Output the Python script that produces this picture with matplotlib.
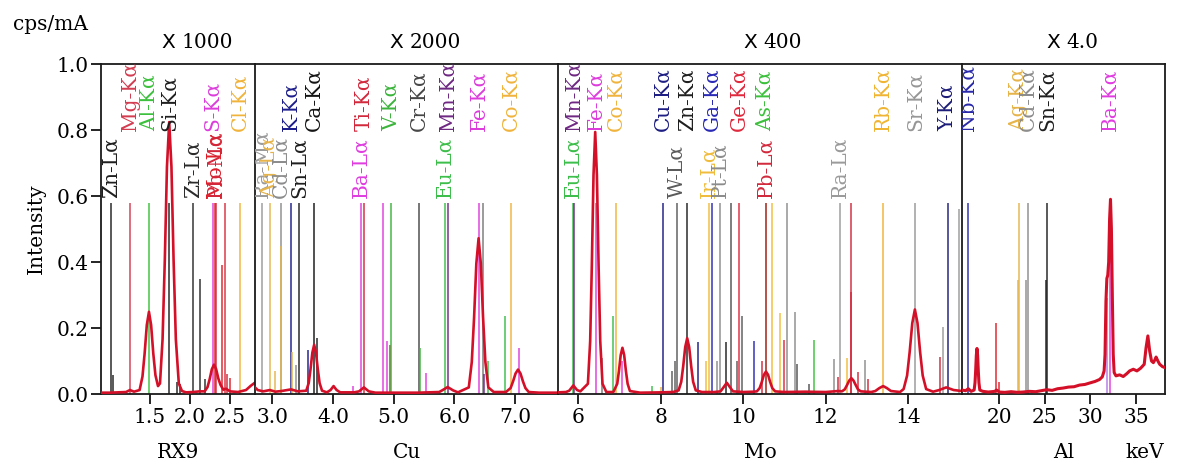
import matplotlib
matplotlib.use('Agg')
import matplotlib.pyplot as plt

plt.rcParams['font.family'] = ['DejaVu Serif', 'DejaVu Sans']

# ---------------- data ----------------
# spectrum (keV, cps/mA scaled) for each of the four filter panels
rx9_kev = [0.89, 1.00, 1.10, 1.20, 1.25, 1.30, 1.37, 1.406, 1.433, 1.460, 1.487, 1.514, 1.541, 1.568,
           1.60, 1.625, 1.657, 1.685, 1.712, 1.740, 1.768, 1.795, 1.823, 1.860, 1.90, 1.95, 2.04, 2.12,
           2.183, 2.219, 2.246, 2.273, 2.30, 2.327, 2.354, 2.381, 2.417, 2.45, 2.50, 2.60, 2.65, 2.70,
           2.76, 2.81]
rx9_int = [0.004, 0.004, 0.005, 0.006, 0.012, 0.007, 0.012, 0.053, 0.123, 0.209, 0.249, 0.209, 0.123, 0.057,
           0.024, 0.032, 0.166, 0.404, 0.689, 0.824, 0.689, 0.404, 0.166, 0.032, 0.009, 0.005, 0.006, 0.008,
           0.008, 0.021, 0.045, 0.075, 0.089, 0.075, 0.047, 0.028, 0.013, 0.016, 0.008, 0.006, 0.009, 0.012,
           0.025, 0.034]

cu_kev = [2.715, 2.76, 2.85, 2.96, 3.05, 3.15, 3.31, 3.42, 3.56, 3.60, 3.63, 3.66, 3.69, 3.72, 3.75, 3.78,
          3.82, 3.90, 3.96, 4.01, 4.06, 4.12, 4.35, 4.43, 4.51, 4.59, 4.70, 5.00, 5.40, 5.75, 5.80, 5.89,
          5.98, 6.06, 6.239, 6.288, 6.326, 6.363, 6.40, 6.437, 6.474, 6.512, 6.561, 6.65, 6.85, 6.928,
          6.968, 7.009, 7.05, 7.091, 7.132, 7.172, 7.227, 7.40, 7.709]
cu_int = [0.020, 0.012, 0.008, 0.012, 0.007, 0.009, 0.014, 0.008, 0.010, 0.033, 0.075, 0.125, 0.149, 0.125,
          0.075, 0.033, 0.010, 0.005, 0.012, 0.024, 0.012, 0.005, 0.005, 0.008, 0.020, 0.008, 0.004, 0.004,
          0.004, 0.006, 0.011, 0.021, 0.011, 0.005, 0.020, 0.097, 0.232, 0.395, 0.472, 0.395, 0.232, 0.097,
          0.020, 0.006, 0.006, 0.018, 0.038, 0.062, 0.074, 0.062, 0.038, 0.018, 0.006, 0.004, 0.004]

mo_kev = [5.508, 5.70, 5.78, 5.88, 5.97, 6.05, 6.233, 6.288, 6.328, 6.369, 6.41, 6.451, 6.492, 6.532, 6.587,
          6.68, 6.85, 6.944, 6.986, 7.028, 7.07, 7.112, 7.154, 7.196, 7.252, 7.50, 8.00, 8.30, 8.432, 8.496,
          8.544, 8.592, 8.64, 8.688, 8.736, 8.784, 8.848, 9.00, 9.30, 9.45, 9.52, 9.60, 9.68, 9.75, 10.00,
          10.25, 10.329, 10.397, 10.448, 10.499, 10.55, 10.601, 10.652, 10.703, 10.771, 11.00, 11.50, 12.00,
          12.30, 12.39, 12.46, 12.51, 12.57, 12.62, 12.67, 12.73, 12.78, 12.85, 13.10, 13.20, 13.30, 13.39,
          13.48, 13.58, 13.80, 13.887, 13.971, 14.034, 14.097, 14.16, 14.223, 14.286, 14.349, 14.433, 14.60,
          14.75, 14.92, 15.10, 15.302]
mo_int = [0.005, 0.006, 0.010, 0.026, 0.012, 0.008, 0.031, 0.160, 0.389, 0.664, 0.794, 0.664, 0.389, 0.160,
          0.031, 0.006, 0.006, 0.031, 0.070, 0.118, 0.140, 0.118, 0.070, 0.031, 0.009, 0.004, 0.005, 0.006,
          0.011, 0.037, 0.085, 0.142, 0.169, 0.142, 0.085, 0.037, 0.011, 0.006, 0.006, 0.008, 0.020, 0.034,
          0.020, 0.008, 0.006, 0.007, 0.008, 0.018, 0.036, 0.058, 0.068, 0.058, 0.036, 0.018, 0.008, 0.006,
          0.007, 0.006, 0.009, 0.008, 0.014, 0.026, 0.041, 0.048, 0.041, 0.026, 0.014, 0.008, 0.006, 0.009,
          0.018, 0.024, 0.018, 0.009, 0.006, 0.015, 0.056, 0.128, 0.215, 0.256, 0.215, 0.128, 0.056, 0.015,
          0.007, 0.012, 0.020, 0.012, 0.009]

al_kev = [15.91, 16.30, 16.60, 16.90, 17.238, 17.334, 17.406, 17.478, 17.55, 17.622, 17.694, 17.766, 17.862,
          18.20, 18.80, 19.50, 19.70, 20.00, 20.60, 21.30, 22.00, 22.60, 23.30, 24.00, 24.60, 25.20, 25.80,
          26.40, 27.00, 27.60, 28.20, 28.80, 29.40, 30.00, 30.50, 31.00, 31.30, 31.50, 31.60, 31.70, 31.80,
          31.90, 32.00, 32.10, 32.20, 32.30, 32.40, 32.50, 32.60, 32.80, 33.20, 33.60, 34.00, 34.30, 34.70,
          35.10, 35.50, 35.90, 36.10, 36.30, 36.50, 36.70, 36.90, 37.10, 37.20, 37.40, 37.60, 37.90, 38.18]
al_int = [0.012, 0.010, 0.016, 0.008, 0.012, 0.034, 0.071, 0.117, 0.138, 0.117, 0.071, 0.034, 0.012,
          0.008, 0.006, 0.008, 0.012, 0.006, 0.005, 0.007, 0.005, 0.006, 0.008, 0.007, 0.010, 0.013, 0.011,
          0.016, 0.018, 0.021, 0.022, 0.027, 0.029, 0.034, 0.038, 0.044, 0.052, 0.070, 0.120, 0.280, 0.350,
          0.360, 0.400, 0.530, 0.590, 0.500, 0.300, 0.120, 0.065, 0.055, 0.058, 0.053, 0.062, 0.070, 0.075,
          0.070, 0.078, 0.090, 0.140, 0.176, 0.130, 0.100, 0.095, 0.105, 0.112, 0.100, 0.090, 0.083, 0.080]

# element marker lines: name, energy, height
rx9_lines = ['Zn-Lα', 'Zn-Lβ', 'Mg-Kα', 'Al-Kα', 'Si-Kα', 'Si-Kβ', 'Si-Kβ3', 'Zr-Lα', 'Zr-Lβ', 'Zr-Lγ',
             'S-Kα', 'Mo-Lα', 'Pb-Mα', 'Mo-Lβ', 'Bi-Mα', 'Pb-Mβ', 'Mo-Lγ', 'Cl-Kα']
rx9_line_kev = [1.012, 1.035, 1.254, 1.487, 1.740, 1.836, 1.870, 2.042, 2.124, 2.190,
                2.285, 2.310, 2.330, 2.395, 2.440, 2.464, 2.500, 2.622]
rx9_line_h = [0.58, 0.058, 0.58, 0.58, 0.58, 0.036, 0.03, 0.58, 0.35, 0.045,
              0.58, 0.58, 0.58, 0.39, 0.58, 0.06, 0.05, 0.58]
rx9_labels = ['Zn-Lα', 'Mg-Kα', 'Al-Kα', 'Si-Kα', 'Zr-Lα', 'S-Kα', 'Mo-Lα', 'Pb-Mα', 'Cl-Kα']

cu_lines = ['Ra-Mα', 'Ag-Lα', 'Ag-Lη', 'Cd-Lα', 'Ag-Lβ', 'K-Kα', 'Ag-Lγ', 'Cd-Lβ', 'Sn-Lα', 'K-Kβ',
            'Ca-Kα', 'Sn-Lβ', 'Ba-Lι', 'Ba-Lα', 'Ti-Kα', 'Ba-Lβ', 'Ba-Lβ2', 'Ti-Kβ', 'V-Kα', 'Cr-Kα',
            'V-Kβ', 'Ba-Lγ', 'Eu-Lα', 'Mn-Kα', 'Fe-Kα', 'Dy-Lα', 'Mn-Kβ', 'Eu-Lβ', 'Eu-Lβ2', 'Co-Kα',
            'Fe-Kβ']
cu_line_kev = [2.825, 2.962, 3.05, 3.138, 3.151, 3.308, 3.33, 3.385, 3.445, 3.590,
               3.691, 3.730, 4.330, 4.466, 4.511, 4.828, 4.890, 4.932, 4.952, 5.415,
               5.427, 5.530, 5.846, 5.899, 6.404, 6.480, 6.490, 6.560, 6.843, 6.930,
               7.058]
cu_line_h = [0.58, 0.58, 0.07, 0.58, 0.45, 0.58, 0.128, 0.088, 0.58, 0.133,
             0.58, 0.17, 0.025, 0.58, 0.58, 0.58, 0.16, 0.15, 0.58, 0.58,
             0.14, 0.063, 0.58, 0.58, 0.58, 0.58, 0.06, 0.10, 0.235, 0.58,
             0.14]
cu_labels = ['Ra-Mα', 'Ag-Lα', 'Cd-Lα', 'Sn-Lα', 'K-Kα', 'Ca-Kα', 'Ba-Lα', 'Ti-Kα', 'V-Kα', 'Cr-Kα',
             'Eu-Lα', 'Mn-Kα', 'Fe-Kα', 'Co-Kα']

mo_lines = ['Eu-Lα', 'Mn-Kα', 'Fe-Kα', 'Dy-Lα', 'Eu-Lβ2', 'Co-Kα', 'Fe-Kβ', 'Eu-Lγ', 'Co-Kβ', 'Cu-Kα',
            'W-Ll', 'W-Lα2', 'W-Lα', 'Zn-Kα', 'Cu-Kβ', 'Ir-Ll', 'Ir-Lα', 'Ga-Kα', 'Pt-Ll', 'Pt-Lα',
            'Zn-Kβ', 'Au-Lα', 'W-Lβ', 'Ge-Kα', 'W-Lβ2', 'Ga-Kβ', 'Pb-Ll', 'As-Kα', 'Pb-Lα', 'Ir-Lβ',
            'Ir-Lβ2', 'Ge-Kβ', 'Pt-Lβ', 'Pt-Lβ2', 'Au-Lβ', 'Au-Lβ2', 'As-Kβ', 'Pt-Lγ', 'Pb-Lβ2', 'Ra-Lα',
            'Ir-Lγ', 'Pb-Lβ', 'Pb-Lβ1', 'Pb-Lβ3', 'Pt-Lγ2', 'Pb-Lβ4', 'Rb-Kα', 'Sr-Kα', 'Pb-Lγ', 'Ra-Lη',
            'Y-Kα', 'Ra-Lβ']
mo_line_kev = [5.860, 5.899, 6.420, 6.570, 6.830, 6.914, 7.070, 7.780, 8.000, 8.048,
               8.280, 8.335, 8.398, 8.639, 8.905, 9.100, 9.175, 9.252, 9.370, 9.442,
               9.572, 9.713, 9.840, 9.886, 9.960, 10.260, 10.450, 10.543, 10.551, 10.708,
               10.900, 10.980, 11.070, 11.260, 11.300, 11.600, 11.720, 12.200, 12.300, 12.340,
               12.520, 12.610, 12.610, 12.790, 12.950, 13.020, 13.395, 14.165, 14.770, 14.830,
               14.958, 15.230]
mo_line_h = [0.58, 0.58, 0.58, 0.11, 0.235, 0.58, 0.10, 0.025, 0.02, 0.58,
             0.07, 0.10, 0.58, 0.58, 0.157, 0.10, 0.58, 0.58, 0.10, 0.58,
             0.157, 0.58, 0.10, 0.58, 0.236, 0.16, 0.10, 0.58, 0.58, 0.58,
             0.245, 0.165, 0.58, 0.25, 0.09, 0.03, 0.164, 0.105, 0.052, 0.58,
             0.108, 0.58, 0.31, 0.068, 0.103, 0.045, 0.58, 0.58, 0.113, 0.204,
             0.58, 0.56]
mo_labels = ['Eu-Lα', 'Mn-Kα', 'Fe-Kα', 'Co-Kα', 'Cu-Kα', 'W-Lα', 'Zn-Kα', 'Ir-Lα', 'Pt-Lα', 'Ga-Kα',
             'Ge-Kα', 'Pb-Lα', 'As-Kα', 'Ra-Lα', 'Rb-Kα', 'Sr-Kα', 'Y-Kα']

al_lines = ['Nb-Kα', 'Mo-Kβ', 'Mo-Kβ2', 'Ag-Kα2', 'Ag-Kα', 'Cd-Kα2', 'Cd-Kα', 'Sn-Kα2', 'Sn-Kα',
            'Ba-Kα2', 'Ba-Kα']
al_line_kev = [16.615, 19.60, 20.00, 22.10, 22.16, 22.95, 23.17, 25.10, 25.27, 31.82, 32.19]
al_line_h = [0.58, 0.214, 0.037, 0.345, 0.58, 0.345, 0.58, 0.345, 0.58, 0.29, 0.58]
al_labels = ['Nb-Kα', 'Ag-Kα', 'Cd-Kα', 'Sn-Kα', 'Ba-Kα']

# axis ticks / captions
rx9_ticks = [1.5, 2.0, 2.5]
cu_ticks = [3.0, 4.0, 5.0, 6.0, 7.0]
mo_ticks = [6, 8, 10, 12, 14]
al_ticks = [20, 25, 30, 35]
filters = ['RX9', 'Cu', 'Mo', 'Al']
scales = ['1000', '2000', '400', '4.0']

# ---------------- styles ----------------
elem_color = {
    'Zn': '#1e1e1e', 'Mg': '#d23c50', 'Al': '#3cc03c', 'Si': '#1e1e1e', 'Zr': '#2a2a2a',
    'Mo': '#e01e28', 'Pb': '#d2283c', 'Bi': '#d83040', 'S': '#dc3cdc', 'Cl': '#f0b43c',
    'Ra': '#9a9a9a', 'Ag': '#e6b44a', 'Cd': '#8c8c8c', 'K': '#1c1c8c', 'Sn': '#1e1e1e',
    'Ca': '#141414', 'Ba': '#e03ce0', 'Ti': '#d2283c', 'V': '#3cb43c', 'Cr': '#464646',
    'Eu': '#3cbe4a', 'Mn': '#6e2882', 'Fe': '#dc3cdc', 'Co': '#f0b43c', 'Dy': '#787878',
    'Cu': '#1c1c82', 'W': '#5a5a5a', 'Ir': '#f0bc3c', 'Ga': '#2828b4', 'Ge': '#e0283c',
    'As': '#3cc03c', 'Pt': '#8c8c8c', 'Au': '#505050', 'Rb': '#f0b432', 'Sr': '#969696',
    'Y': '#1c1c78', 'Nb': '#2828aa',
}
line_override = {'Ba-Kα2': '#b478e6'}
FS = 14.5


def color_of(name):
    return line_override.get(name, elem_color[name.split('-')[0]])


W, H = 1186, 466
AX_TOP, AX_BOT = 64, 394
# panel pixel edges and keV limits (from tick positions)
panel_px = [(101, 255), (255, 558), (558, 962), (962, 1165)]
panel_lim = [(0.8875, 2.8125), (2.715, 7.709), (5.508, 15.302), (15.907, 38.18)]

panels = [
    (rx9_kev, rx9_int, rx9_lines, rx9_line_kev, rx9_line_h, rx9_labels, rx9_ticks, '{:.1f}'),
    (cu_kev, cu_int, cu_lines, cu_line_kev, cu_line_h, cu_labels, cu_ticks, '{:.1f}'),
    (mo_kev, mo_int, mo_lines, mo_line_kev, mo_line_h, mo_labels, mo_ticks, '{:d}'),
    (al_kev, al_int, al_lines, al_line_kev, al_line_h, al_labels, al_ticks, '{:d}'),
]

fig = plt.figure(figsize=(W / 100, H / 100), dpi=100)

for i, (spec_x, spec_y, names, lkev, lh, labels, ticks, fmt) in enumerate(panels):
    left, right = panel_px[i]
    ax = fig.add_axes([left / W, 1 - AX_BOT / H, (right - left) / W, (AX_BOT - AX_TOP) / H])
    ax.set_xlim(*panel_lim[i])
    ax.set_ylim(0, 1.0)

    # marker lines
    ax.vlines(lkev, 0, lh, colors=[color_of(n) for n in names], lw=1.3, alpha=0.8, zorder=2)
    # spectrum
    ax.plot(spec_x, spec_y, color='#d41028', lw=1.9 if i < 3 else 2.2, zorder=3, solid_joinstyle='round')

    # line labels: K lines in upper row, L/M lines in lower row
    for lab in labels:
        x = lkev[names.index(lab)]
        y = 0.797 if '-K' in lab else 0.595
        ax.text(x, y, lab, rotation=90, ha='center', va='bottom', fontsize=FS,
                color=color_of(lab), clip_on=True, zorder=4)

    ax.set_xticks(ticks)
    ax.set_xticklabels([fmt.format(t) for t in ticks])
    ax.tick_params(axis='x', direction='out', length=7, width=1.2, pad=3, labelsize=FS)
    for s in ax.spines.values():
        s.set_linewidth(1.3)
        s.set_color('#1a1a1a')
    if i < 3:
        ax.spines['right'].set_visible(False)
    if i == 0:
        ax.set_yticks([0.0, 0.2, 0.4, 0.6, 0.8, 1.0])
        ax.set_yticklabels(['0.0', '0.2', '0.4', '0.6', '0.8', '1.0'])
        ax.tick_params(axis='y', direction='out', length=7, width=1.2, pad=2, labelsize=FS)
    else:
        ax.tick_params(axis='y', left=False, labelleft=False)

    cx = (left + right) / 2 / W
    # scale factor: sans "X" followed by the serif number
    fig.text(cx - 3 / W, 1 - 43 / H, 'X', ha='right', va='center', fontsize=FS, family='DejaVu Sans')
    fig.text(cx + 3 / W, 1 - 43 / H, scales[i], ha='left', va='center', fontsize=FS)
    fig.text(cx, 1 - 453 / H, filters[i], ha='center', va='center', fontsize=FS)

fig.text(1145 / W, 1 - 453 / H, 'keV', ha='center', va='center', fontsize=FS)
fig.text(50 / W, 1 - 25 / H, 'cps/mA', ha='center', va='center', fontsize=FS)
fig.text(36 / W, 1 - 229 / H, 'Intensity', ha='center', va='center', rotation=90, fontsize=FS)

fig.savefig('out.png', dpi=100)
